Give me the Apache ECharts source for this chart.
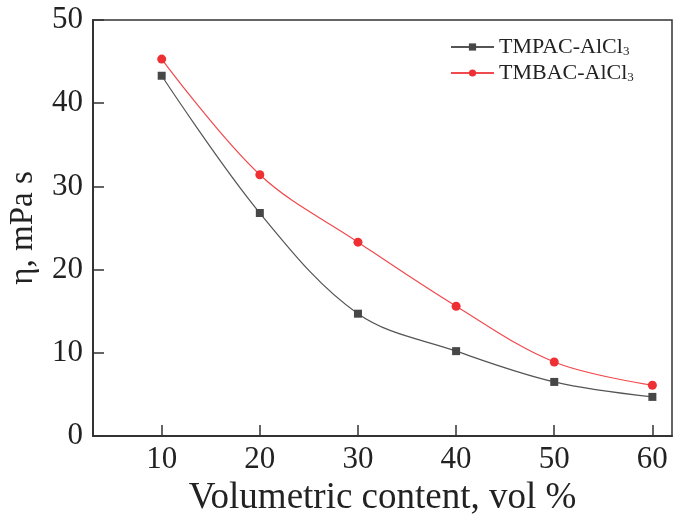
<!DOCTYPE html>
<html><head><meta charset="utf-8">
<script src="https://cdn.jsdelivr.net/npm/echarts@6/dist/echarts.min.js"></script>
<style>html,body{margin:0;padding:0;background:#fff}#c{width:685px;height:522px}</style>
</head><body><div id="c"></div>
<script>
const xValues = [10, 20, 30, 40, 50, 60];
const tmpac = [43.3, 26.8, 14.7, 10.2, 6.5, 4.7];
const tmbac = [45.3, 31.4, 23.3, 15.6, 8.9, 6.1];
const seriesNames = ['TMPAC-AlCl3', 'TMBAC-AlCl3'];
const xTicks = [10, 20, 30, 40, 50, 60];
const xTitle = 'Volumetric content, vol %';
const yTitle = 'η, mPa s';

const font = '"Liberation Serif", "DejaVu Serif", serif';
const chart = echarts.init(document.getElementById('c'));
const pairs = (ys) => xValues.map((x, i) => [x, ys[i]]);
chart.setOption({
  animation: false,
  backgroundColor: '#fff',
  grid: { left: 93, top: 20, right: 13, bottom: 86, containLabel: false, outerBoundsMode: 'none',
          show: true, borderColor: '#333', borderWidth: 1.5 },
  legend: {
    orient: 'vertical', left: 445, top: 31,
    itemWidth: 43, itemHeight: 9, itemGap: 4,
    data: seriesNames,
    formatter: (n) => '{a|' + n.slice(0, -1) + '}{s|' + n.slice(-1) + '}',
    textStyle: {
      rich: {
        a: { fontFamily: font, fontSize: 22, color: '#222', lineHeight: 22 },
        s: { fontFamily: font, fontSize: 13, color: '#222', verticalAlign: 'bottom', padding: [8, 0, 0, 0] }
      }
    }
  },
  xAxis: {
    type: 'value', min: 3, max: 62,
    name: xTitle, nameLocation: 'middle', nameGap: 43,
    nameTextStyle: { fontFamily: font, fontSize: 37, color: '#222' },
    axisLine: { show: true, lineStyle: { color: '#333', width: 2 } },
    axisTick: { show: true, inside: true, length: 11, customValues: xTicks, lineStyle: { color: '#333', width: 1.5 } },
    axisLabel: { customValues: xTicks, fontFamily: font, fontSize: 31, color: '#222', margin: 8 },
    splitLine: { show: false }
  },
  yAxis: {
    type: 'value', min: 0, max: 50, interval: 10,
    name: yTitle, nameLocation: 'middle', nameGap: 53,
    nameTextStyle: { fontFamily: font, fontSize: 33, color: '#222' },
    axisLine: { show: true, lineStyle: { color: '#333', width: 2 } },
    axisTick: { show: true, inside: true, length: 11, lineStyle: { color: '#333', width: 1.5 } },
    axisLabel: { fontFamily: font, fontSize: 31, color: '#222', margin: 10 },
    splitLine: { show: false }
  },
  series: [
    {
      name: seriesNames[0], type: 'line', smooth: 0.35, data: pairs(tmpac),
      symbol: 'rect', symbolSize: 8,
      itemStyle: { color: '#474747' },
      lineStyle: { color: '#555', width: 1.2 }
    },
    {
      name: seriesNames[1], type: 'line', smooth: 0.35, data: pairs(tmbac),
      symbol: 'circle', symbolSize: 9,
      itemStyle: { color: '#ee3035' },
      lineStyle: { color: '#f04a4e', width: 1.2 }
    }
  ]
});
</script></body></html>
